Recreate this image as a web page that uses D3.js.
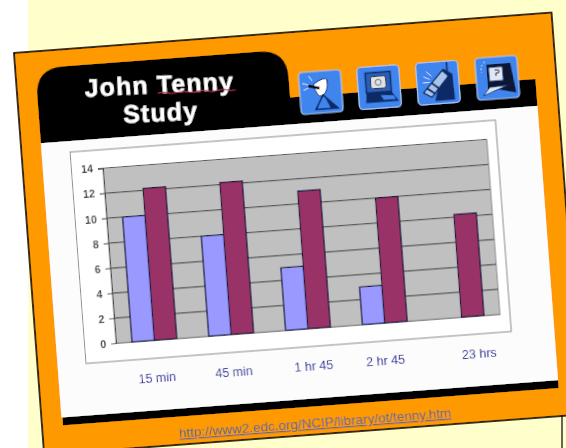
<!DOCTYPE html>
<html>
<head>
<meta charset="utf-8">
<title>John Tenny Study</title>
<script src="https://cdnjs.cloudflare.com/ajax/libs/d3/7.8.5/d3.min.js"></script>
<style>
html, body { margin: 0; padding: 0; background: #fff; overflow: hidden; }
svg { display: block; font-family: "Liberation Sans", Arial, sans-serif; }
</style>
</head>
<body>
<script>
"use strict";
const categories = ["15 min", "45 min", "1 hr 45", "2 hr 45", "23 hrs"];
const seriesA = [10, 8, 5, 3, null];
const seriesB = [12.15, 12.15, 11, 10, 8.2];
const yTicks = [0, 2, 4, 6, 8, 10, 12, 14];
const titleLines = ["John Tenny", "Study"];
const linkText = "http://www2.edc.org/NCIP/library/ot/tenny.htm";

const size = {"width": 566, "height": 448};
const plot = {"left": 80, "top": 121.5, "width": 385, "height": 175.5};
const labelShift = {"1 hr 45": 3, "2 hr 45": -2, "23 hrs": 15};
const svg = d3.select("body").append("svg").attr("width", size.width).attr("height", size.height);

const defs = svg.append("defs");
defs.append("filter").attr("id", "soft").attr("x", "-5%").attr("y", "-5%").attr("width", "110%").attr("height", "110%")
	.append("feGaussianBlur").attr("stdDeviation", 0.55);

function backdrop() {
	svg.append("rect").attr("x", 28).attr("y", 0).attr("width", 538).attr("height", 448).attr("fill", "#ffffcc");
	svg.append("line").attr("x1", 562).attr("x2", 562).attr("y1", 410).attr("y2", 448).attr("stroke", "#000").attr("stroke-width", 1.2);
}

// everything on the slide sits in one tilted group
backdrop();
const slide = svg.append("g").attr("transform", "translate(14,53) rotate(-4.3)");
const page = slide.append("g").attr("filter", "url(#soft)");

function frame() {
	page.append("rect").attr("width", 539).attr("height", 403).attr("fill", "#ff9900").attr("stroke", "#000").attr("stroke-width", 1.6);
	// header band and rounded tab
	page.append("rect").attr("x", 20).attr("y", 65).attr("width", 498).attr("height", 28).attr("fill", "#000");
	page.append("path").attr("d", "M20,93V45Q20,17 48,17H244Q272,17 272,45V93Z").attr("fill", "#000");
	// panel with its black shadow strip
	page.append("rect").attr("x", 21).attr("y", 360).attr("width", 497).attr("height", 15).attr("fill", "#000");
	page.append("rect").attr("x", 20).attr("y", 92).attr("width", 498).attr("height", 275).attr("fill", "#fcfcfd");
	page.append("rect").attr("x", 48.5).attr("y", 103).attr("width", 426.5).attr("height", 212).attr("fill", "#fff").attr("stroke", "#8a8a8a").attr("stroke-width", 1);
}

function title() {
	const t = page.append("g").attr("transform", "rotate(1.6,142,60)");
	t.selectAll("text.title")
	.data(titleLines)
	.enter()
	.append("text")
	.attr("class", "title")
	.attr("x", 142)
	.attr("y", (d, i) => 51 + i * 28)
	.attr("text-anchor", "middle")
	.attr("font-size", 25)
	.attr("font-weight", "bold")
	.attr("letter-spacing", 1.1)
	.attr("fill", "#fff")
	.attr("stroke", "#fff")
	.attr("stroke-width", 0.4)
	.text(d => d);
	t.append("path").attr("d", "M140,51q5,-1.5 10,0t10,0t10,0t10,0t10,0t10,0t10,0t8,0").attr("fill", "none").attr("stroke", "#b5304f").attr("stroke-width", 1);
}

function icons() {
	const at = [[303, 62], [361.5, 61.5], [420.5, 61.5], [480, 61]];
	const g = page.selectAll("g.icon").data(at).enter().append("g").attr("class", "icon")
		.attr("transform", d => "translate(" + d[0] + "," + d[1] + ")");
	g.append("rect").attr("x", -21).attr("y", -21).attr("width", 42).attr("height", 42).attr("rx", 4)
		.attr("fill", "#3f84ee").attr("stroke", "#a9c6ee").attr("stroke-width", 1.2);
	const ink = "#0b2a66";
	// dish
	const a = g.filter((d, i) => i === 0);
	a.append("path").attr("d", "M-7,-8Q5,-16 7,-12Q8,0 1,4Q-4,5 -7,-8Z").attr("fill", "#fff").attr("stroke", ink);
	a.append("path").attr("d", "M-12,-7L-1,-4").attr("stroke", "#000").attr("stroke-width", 2.5);
	a.append("path").attr("d", "M2,3L16,17H-6Z").attr("fill", "#3f84ee").attr("stroke", ink).attr("stroke-width", 1.6);
	a.append("path").attr("d", "M4,6L16,17H9Z").attr("fill", ink);
	a.append("path").attr("d", "M-18,-10L-12,-8M-17,-3L-12,-5M-11,-17L-8,-12").attr("stroke", "#cfe0fb").attr("stroke-width", 1);
	// screen with @
	const b = g.filter((d, i) => i === 1);
	b.append("path").attr("d", "M-13,-15H12V5H-13Z").attr("fill", "#2a5fb8").attr("stroke", ink).attr("stroke-width", 1.5);
	b.append("rect").attr("x", -8).attr("y", -11).attr("width", 15).attr("height", 12).attr("rx", 2).attr("fill", "#dfe3ea").attr("stroke", "#333");
	b.append("circle").attr("cx", -0.5).attr("cy", -5).attr("r", 3).attr("fill", "none").attr("stroke", "#666");
	b.append("path").attr("d", "M-13,5H12L19,15H-14Z").attr("fill", ink);
	b.append("path").attr("d", "M1,8L14,9L16,13L4,13Z").attr("fill", "#3f84ee");
	// phone
	const c = g.filter((d, i) => i === 2);
	c.append("path").attr("d", "M6,-14L15,-8L16,18H-4Z").attr("fill", ink);
	c.append("path").attr("d", "M5,-12L11,-6L-7,14L-15,9Z").attr("fill", "#a9c4ea").attr("stroke", ink).attr("stroke-width", 1.3);
	c.append("path").attr("d", "M-11,5L-3,11M-6,0L1,6").attr("stroke", ink).attr("stroke-width", 2);
	c.append("path").attr("d", "M10,-10V-20").attr("stroke", ink).attr("stroke-width", 1.6);
	c.append("path").attr("d", "M-14,-7L-8,-4M-15,-1L-8,-1M-11,-12L-6,-7").attr("stroke", "#cfe0fb").attr("stroke-width", 1);
	// laptop
	const e = g.filter((d, i) => i === 3);
	e.append("path").attr("d", "M-10,-14H14L18,16L2,12H-10Z").attr("fill", "#0a1430");
	e.append("rect").attr("x", -8).attr("y", -11).attr("width", 14).attr("height", 14).attr("fill", "#dfe8f5").attr("stroke", ink);
	e.append("path").attr("d", "M-2,-8h4v3h-3v3").attr("fill", "none").attr("stroke", "#333");
	e.append("path").attr("d", "M-8,9L10,8L-15,17Z").attr("fill", "#dfe8f5").attr("stroke", ink).attr("stroke-width", 0.8);
	e.append("path").attr("d", "M-11,-17Q-17,-13 -15,-6").attr("fill", "none").attr("stroke", "#cfe0fb").attr("stroke-dasharray", "2 2");
}

function chart() {
	const xScale = d3.scaleBand().domain(categories).range([0, plot.width]).paddingInner(0).paddingOuter(0);
	const inner = d3.scaleBand().domain(["a", "b"]).range([16, 77 - 16]);
	const yScale = d3.scaleLinear().domain([0, 14]).range([plot.height, 0]);
	const g = page.append("g").attr("transform", "translate(" + plot.left + "," + plot.top + ")");
	g.append("rect").attr("width", plot.width).attr("height", plot.height).attr("fill", "#c0c0c0").attr("stroke", "#8c8c8c").attr("stroke-width", 1);
	g.selectAll("line.grid")
	.data(yTicks.slice(1))
	.enter()
	.append("line")
	.attr("class", "grid")
	.attr("x2", plot.width)
	.attr("y1", d => yScale(d))
	.attr("y2", d => yScale(d))
	.attr("stroke", "#555")
	.attr("stroke-width", 1.2);

	const yAxis = d3.axisLeft(yScale).tickValues(yTicks).tickSize(5).tickPadding(5);
	const yG = g.append("g").call(yAxis);
	yG.select(".domain").attr("stroke", "#444");
	yG.selectAll(".tick line").attr("stroke", "#333");
	yG.selectAll("text").attr("font-family", "Liberation Sans").attr("font-size", 10.5).attr("font-weight", "bold").attr("fill", "#444");

	const xAxis = d3.axisBottom(xScale).tickSize(0).tickPadding(33);
	const xG = g.append("g").attr("transform", "translate(0," + plot.height + ")").call(xAxis);
	xG.select(".domain").attr("stroke", "#8c8c8c");
	xG.selectAll("text").attr("font-family", "Liberation Sans").attr("font-size", 12.5).attr("fill", "#333399")
		.attr("dx", d => labelShift[d] || 0);

	function bars(values, key, color) {
		g.selectAll("rect.bar-" + key)
		.data(values.map((v, i) => ({"cat": categories[i], "v": v})).filter(d => d.v !== null))
		.enter()
		.append("rect")
		.attr("class", "bar-" + key)
		.attr("x", d => xScale(d.cat) + inner(key))
		.attr("y", d => yScale(d.v))
		.attr("width", inner.bandwidth())
		.attr("height", d => plot.height - yScale(d.v))
		.attr("fill", color)
		.attr("stroke", "#14143c")
		.attr("stroke-width", 1.2);
	}
	bars(seriesA, "a", "#9999ff");
	bars(seriesB, "b", "#993366");
}

function link() {
	page.append("text")
	.attr("x", 272.5)
	.attr("y", 396)
	.attr("text-anchor", "middle")
	.attr("font-size", 13.5)
	.attr("fill", "#56698f")
	.attr("text-decoration", "underline")
	.text(linkText);
}

frame();
title();
icons();
chart();
link();
</script>
</body>
</html>
